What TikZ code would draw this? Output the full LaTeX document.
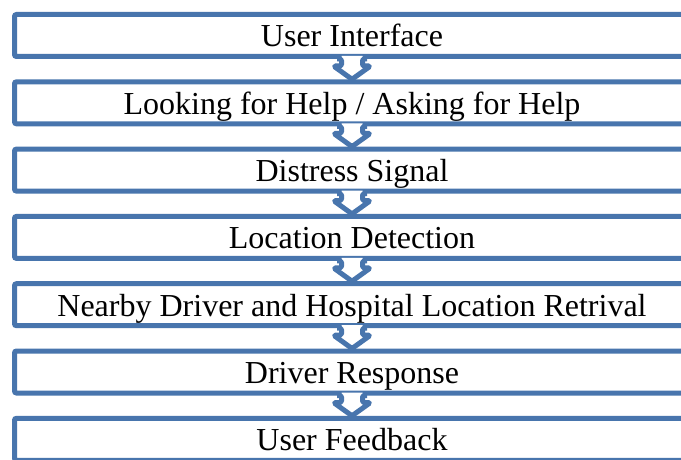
\documentclass[tikz,border=0pt]{standalone}
\usepackage{fontspec}
\setmainfont{Liberation Serif}
\usetikzlibrary{calc}
\definecolor{flowblue}{RGB}{72,117,173}
\begin{document}
\begin{tikzpicture}[x=1pt,y=-1pt,
  stagebox/.style={draw=flowblue,line width=5pt,rounded corners=2pt,
    minimum width=675pt,minimum height=42pt,inner sep=0pt,
    text height=23pt,text depth=0pt,font=\fontsize{32}{38}\selectfont},
  flowarrow/.style={draw=flowblue,line width=5pt,line join=round,rounded corners=1.5pt}]
\clip (0,0) rectangle (681,460);
\fill[white] (0,0) rectangle (681,460);
% process stages, top to bottom
\foreach \i/\txt in {1/{User Interface},
                     2/{Looking for Help / Asking for Help},
                     3/{Distress Signal},
                     4/{Location Detection},
                     5/{Nearby Driver and Hospital Location Retrival},
                     6/{Driver Response},
                     7/{User Feedback}}
  \node[stagebox] (s\i) at (352,{35.5+67.3*(\i-1)}) {\txt};
% hollow down arrows between consecutive stages
\foreach \i [evaluate=\i as \j using int(\i+1)] in {1,...,6} {
  \fill[white] ($(s\i.south)+(-10.5,-3)$) -- ($(s\i.south)+(-10.5,7)$)
    -- ($(s\i.south)+(-18.5,7)$) -- (s\j.north) -- ($(s\i.south)+(18.5,7)$)
    -- ($(s\i.south)+(10.5,7)$) -- ($(s\i.south)+(10.5,-3)$) -- cycle;
  \draw[flowarrow] ($(s\i.south)+(-15,0)$) -- ($(s\i.south)+(-10.5,0)$)
    -- ($(s\i.south)+(-10.5,7)$) -- ($(s\i.south)+(-18.5,7)$) -- (s\j.north)
    -- ($(s\i.south)+(18.5,7)$) -- ($(s\i.south)+(10.5,7)$)
    -- ($(s\i.south)+(10.5,0)$) -- ($(s\i.south)+(15,0)$);
}
\end{tikzpicture}
\end{document}
